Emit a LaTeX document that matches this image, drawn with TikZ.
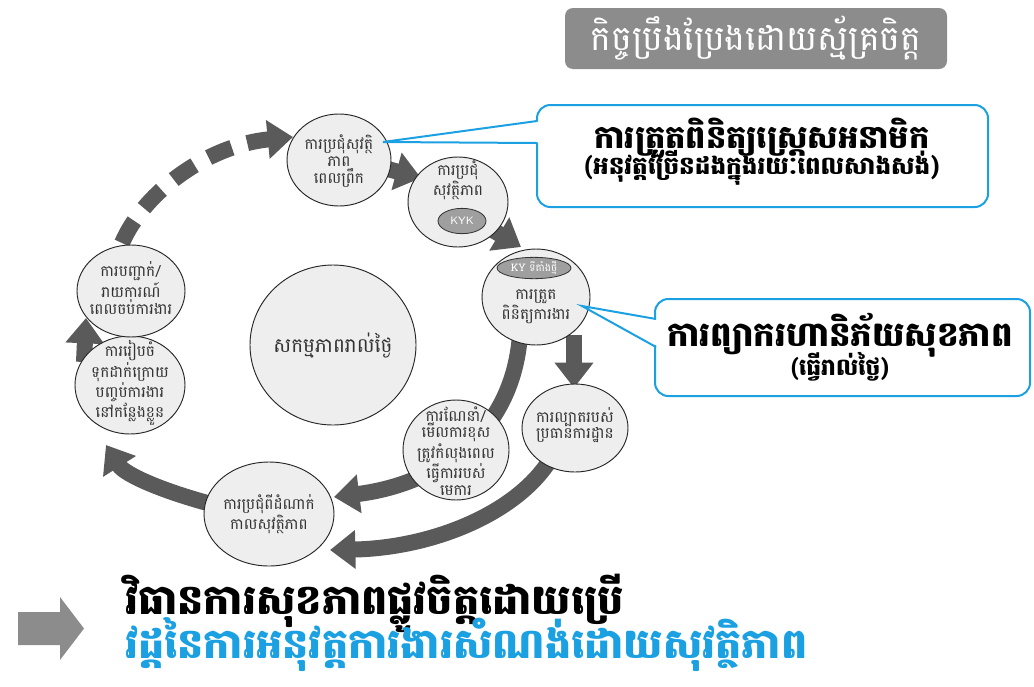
\documentclass[tikz,border=0pt]{standalone}
\usepackage{fontspec}
\usetikzlibrary{shapes.geometric,arrows.meta}
\newfontfamily\kh[Script=Khmer]{Battambang}
\definecolor{arrowgray}{HTML}{5A5A5A}
\definecolor{bubfill}{HTML}{EEEEEE}
\definecolor{titlegray}{HTML}{8C8C8C}
\definecolor{cyanblue}{HTML}{1BA1E2}
\tikzset{
  bub/.style={ellipse, draw=black!85, fill=bubfill, line width=0.7pt, inner sep=0pt},
  btext/.style={font=\kh\fontsize{11.5}{12.5}\selectfont, align=center, text=black!80, inner sep=0pt},
  kyk/.style={ellipse, draw=black!80, fill=gray!75, line width=0.6pt, inner sep=0pt, text=white, font=\sffamily\fontsize{8}{9}\selectfont},
  bigarrow/.style={draw=arrowgray, line width=12pt, -{Triangle[length=19pt,width=28pt]}},
  callout/.style={draw=cyanblue, line width=1.5pt, fill=white, rounded corners=10pt, align=center, inner sep=0pt},
  pointer/.style={draw=cyanblue, line width=1.5pt},
}
\begin{document}
\begin{tikzpicture}[x=0.75pt,y=-0.75pt]
\useasboundingbox (0,0) rectangle (1034,686);
% ---- arrows (drawn under the circles)
\coordinate (a0) at (122,243);
\coordinate (a0e) at (293,137);
\draw[bigarrow, dash pattern=on 19pt off 12pt] (a0) .. controls (145,190) and (210,145) .. (a0e);
\coordinate (a1s) at (384,168); \coordinate (a1e) at (421,178);
\draw[bigarrow] (a1s) -- (a1e);
\coordinate (a2s) at (486,226); \coordinate (a2e) at (521,247);
\draw[bigarrow] (a2s) -- (a2e);
\coordinate (a3s) at (574,335); \coordinate (a3e) at (574,388);
\draw[bigarrow] (a3s) -- (a3e);
\coordinate (a4s) at (520,335); \coordinate (a4e) at (334,497);
\draw[bigarrow] (a4s) .. controls (512,440) and (430,485) .. (a4e);
\coordinate (a5s) at (550,460); \coordinate (a5e) at (330,550);
\draw[bigarrow] (a5s) .. controls (515,515) and (430,548) .. (a5e);
\coordinate (a6s) at (215,505); \coordinate (a6e) at (106,445);
\draw[bigarrow] (a6s) .. controls (165,492) and (125,475) .. (a6e);
\coordinate (a7s) at (84,362); \coordinate (a7e) at (86,318);
\draw[bigarrow] (a7s) -- (a7e);
% ---- circles
\node[bub, minimum width=78pt, minimum height=69pt] (c1) at (339,160) {};
\node[bub, minimum width=75pt, minimum height=67.5pt] (c2) at (458,202) {};
\node[bub, minimum width=81pt, minimum height=72pt] (c3) at (536,297) {};
\node[bub, minimum width=79.5pt, minimum height=66pt] (c4) at (575,428) {};
\node[bub, minimum width=79.5pt, minimum height=75pt] (c5) at (456,450) {};
\node[bub, minimum width=97.5pt, minimum height=78pt] (c6) at (269,514) {};
\node[bub, minimum width=82.5pt, minimum height=73.5pt] (c7) at (130,385) {};
\node[bub, minimum width=81pt, minimum height=69pt] (c8) at (131,291) {};
\node[bub, minimum width=124.5pt, minimum height=120pt] (c9) at (333,345) {};
% ---- circle texts
\node[btext] (t1) at (339,161) {ការប្រជុំសុវត្ថិ\\ភាព\\ពេលព្រឹក};
\node[btext] (t2) at (458,180) {ការប្រជុំ\\សុវត្ថិភាព};
\node[kyk, minimum width=36pt, minimum height=19pt] (k2) at (462,221) {KYK};
\node[kyk, minimum width=55.5pt, minimum height=16pt, font=\kh\fontsize{7.8}{8}\selectfont] (k3) at (534,268) {KY ទីតាំងថ្មី};
\node[btext] (t3) at (536,307) {ការត្រួត\\ពិនិត្យការងារ};
\node[btext] (t4) at (575,425) {ការល្បាតរបស់\\ប្រធានការដ្ឋាន};
\node[btext] (t5) at (456,451) {ការណែនាំ/\\មើលការខុស\\ត្រូវកំលុងពេល\\ធ្វើការរបស់\\មេការ};
\node[btext] (t6) at (269,514) {ការប្រជុំពីដំណាក់\\កាលសុវត្ថិភាព};
\node[btext] (t7) at (130,383) {ការរៀបចំ\\ទុកដាក់ក្រោយ\\បញ្ចប់ការងារ\\នៅកន្លែងខ្លួន};
\node[btext] (t8) at (131,288) {ការបញ្ជាក់/\\រាយការណ៍\\ពេលចប់ការងារ};
\node[btext, font=\kh\fontsize{15}{18}\selectfont] (t9) at (333,345) {សកម្មភាពរាល់ថ្ងៃ};
% ---- title
\node[fill=titlegray, rounded corners=6pt, minimum width=286.5pt, minimum height=45.75pt, inner sep=0pt, text=white, font=\kh\fontsize{26}{30}\selectfont] (title) at (756,38.5) {កិច្ចប្រឹងប្រែងដោយស្ម័គ្រចិត្ត};
% ---- callout 1
\node[callout, minimum width=338.25pt, minimum height=76.5pt] (co1) at (762.5,156) {};
\coordinate (tip1) at (383,142);
\fill[white] (539,121.5) -- (tip1) -- (539,142.5) -- cycle;
\draw[pointer] (537,121) -- (tip1) -- (537,143);
\node[font=\kh\bfseries\fontsize{24}{28}\selectfont, inner sep=0pt] (co1a) at (762,138) {ការត្រួតពិនិត្យស្ត្រេសអនាមិក};
\node[font=\kh\bfseries\fontsize{18.5}{20}\selectfont, inner sep=0pt] (co1b) at (762,168) {(អនុវត្តច្រើនដងក្នុងរយៈពេលសាងសង់)};
% ---- callout 2
\node[callout, minimum width=281.25pt, minimum height=72.75pt] (co2) at (842.5,347.5) {};
\coordinate (tip2) at (582,306);
\fill[white] (658,319.5) -- (tip2) -- (658,346.5) -- cycle;
\draw[pointer] (656,319) -- (tip2) -- (656,347);
\node[font=\kh\bfseries\fontsize{25.5}{28}\selectfont, inner sep=0pt] (co2a) at (840,335) {ការព្យាករហានិភ័យសុខភាព};
\node[font=\kh\bfseries\fontsize{17.5}{20}\selectfont, inner sep=0pt] (co2b) at (840,367) {(ធ្វើរាល់ថ្ងៃ)};
% ---- bottom
\fill[titlegray] (18,612) -- (60,612) -- (60,597) -- (84,628.5) -- (60,660) -- (60,645) -- (18,645) -- cycle;
\node[anchor=west, font=\kh\bfseries\fontsize{31}{34}\selectfont, inner sep=0pt] (b1) at (125,603) {វិធានការសុខភាពផ្លូវចិត្តដោយប្រើ};
\node[anchor=west, font=\kh\bfseries\fontsize{31}{34}\selectfont, inner sep=0pt, text=cyanblue] (b2) at (125,645) {វដ្តនៃការអនុវត្តការងារសំណង់ដោយសុវត្ថិភាព};
\end{tikzpicture}
\end{document}
